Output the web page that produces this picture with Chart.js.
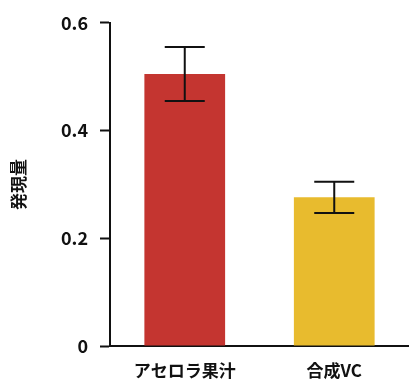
<!DOCTYPE html>
<html>
<head>
<meta charset="utf-8">
<script src="https://cdn.jsdelivr.net/npm/chart.js@4/dist/chart.umd.min.js"></script>
<style>
  html, body { margin: 0; padding: 0; background: #fff; }
  #wrap { width: 409px; height: 382px; }
</style>
</head>
<body>
<div id="wrap"><canvas id="c" width="409" height="382"></canvas></div>
<script>
// Expression level per treatment, with its error (± half-range of the bar)
const categories = ['アセロラ果汁', '合成VC'];
const expression = [0.505, 0.276];
const errors = [0.050, 0.029];
const barColors = ['#c43530', '#e8bb2e'];
const yTicks = [0, 0.2, 0.4, 0.6];

const FONT = '"Noto Sans CJK JP", "Noto Sans", sans-serif';

// Draws vertical error bars with caps on top of each bar
const errorBars = {
  id: 'errorBars',
  afterDatasetsDraw(chart) {
    const { ctx, scales } = chart;
    const meta = chart.getDatasetMeta(0);
    ctx.save();
    ctx.strokeStyle = '#111';
    ctx.lineWidth = 2;
    meta.data.forEach((bar, i) => {
      const x = bar.x;
      const yHi = scales.y.getPixelForValue(expression[i] + errors[i]);
      const yLo = scales.y.getPixelForValue(expression[i] - errors[i]);
      const half = 20;
      ctx.beginPath();
      ctx.moveTo(x, yHi); ctx.lineTo(x, yLo);
      ctx.moveTo(x - half, yHi); ctx.lineTo(x + half, yHi);
      ctx.moveTo(x - half, yLo); ctx.lineTo(x + half, yLo);
      ctx.stroke();
    });
    ctx.restore();
  }
};

new Chart(document.getElementById('c'), {
  type: 'bar',
  data: {
    labels: categories,
    datasets: [{
      data: expression,
      backgroundColor: barColors,
      borderWidth: 0,
      barPercentage: 0.54,
      categoryPercentage: 1.0
    }]
  },
  options: {
    responsive: false,
    animation: false,
    devicePixelRatio: 1,
    layout: { padding: { top: 18, right: 0, left: 0, bottom: 0 } },
    plugins: { legend: { display: false }, tooltip: { enabled: false } },
    scales: {
      x: {
        grid: { display: false, drawTicks: false },
        border: { color: '#111', width: 2 },
        ticks: {
          color: '#111',
          padding: 14,
          font: { family: FONT, size: 17, weight: 'bold' }
        },
        afterFit(scale) { scale.height = 36; }
      },
      y: {
        min: 0,
        max: 0.6,
        afterBuildTicks(scale) { scale.ticks = yTicks.map(v => ({ value: v })); },
        grid: {
          display: true,
          drawOnChartArea: false,
          drawTicks: true,
          tickLength: 10,
          tickColor: '#111',
          tickWidth: 2,
          color: '#111'
        },
        border: { color: '#111', width: 2 },
        ticks: {
          color: '#111',
          padding: 12,
          font: { family: FONT, size: 18, weight: 'bold' },
          callback: v => String(v)
        },
        title: {
          display: true,
          text: '発現量',
          color: '#111',
          padding: { top: 8, bottom: 0 },
          font: { family: FONT, size: 17, weight: 'bold' }
        },
        afterFit(scale) { scale.width = 110; }
      }
    }
  },
  plugins: [errorBars]
});
</script>
</body>
</html>
